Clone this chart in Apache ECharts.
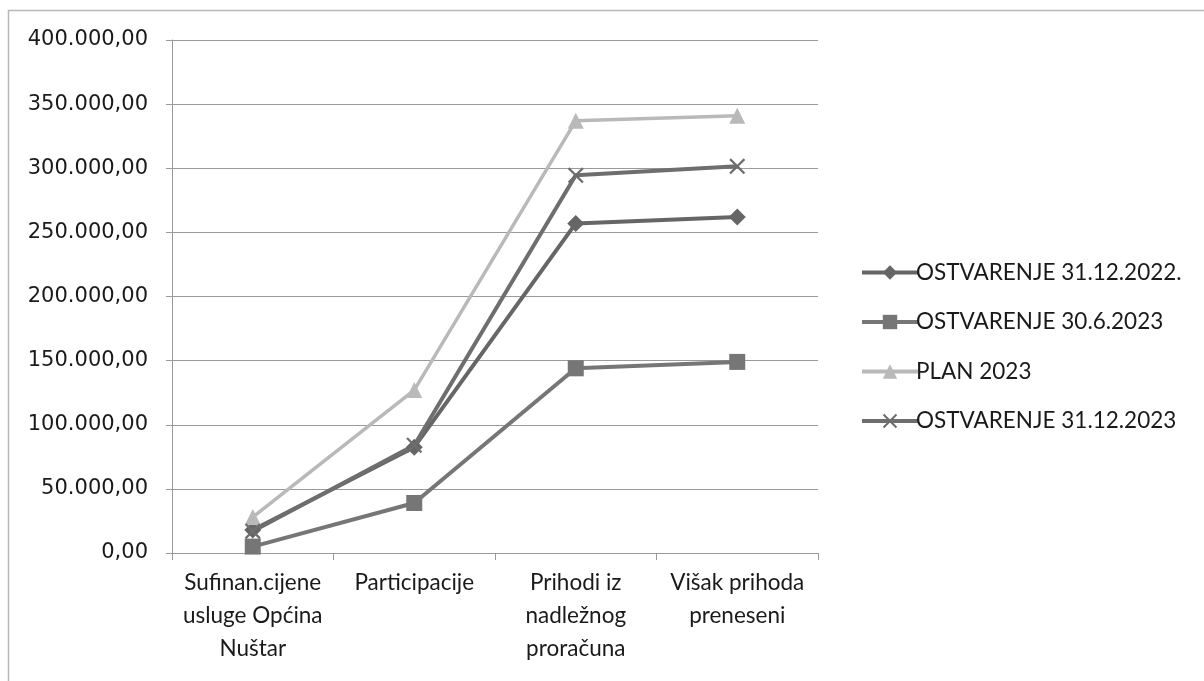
<!DOCTYPE html>
<html>
<head>
<meta charset="utf-8">
<script src="https://cdn.jsdelivr.net/npm/echarts@6/dist/echarts.min.js"></script>
<style>
html,body{margin:0;padding:0;background:#fff;}
#c{width:1204px;height:681px;}
</style>
</head>
<body>
<div id="c"></div>
<script>
const categories = ["Sufinan.cijene\nusluge Općina\nNuštar", "Participacije", "Prihodi iz\nnadležnog\nproračuna", "Višak prihoda\npreneseni"];
const seriesNames = ["OSTVARENJE 31.12.2022.", "OSTVARENJE 30.6.2023", "PLAN 2023", "OSTVARENJE 31.12.2023"];
const ostv2022 = [18000, 82500, 257000, 262000];
const ostv062023 = [5000, 39000, 144000, 149000];
const plan2023 = [28000, 127000, 337000, 341000];
const ostv2023 = [17000, 84000, 294500, 301500];
const yTicks = [0, 50000, 100000, 150000, 200000, 250000, 300000, 350000, 400000];

const xSymbol = 'path://M0,1 L1,0 L5,4 L9,0 L10,1 L6,5 L10,9 L9,10 L5,6 L1,10 L0,9 L4,5 Z';

function fmt(v){
  const s = Math.round(v).toString().replace(/\B(?=(\d{3})+(?!\d))/g, '.');
  return s + ',00';
}

const chart = echarts.init(document.getElementById('c'), null, {renderer:'canvas'});
const defs = [
  {name: seriesNames[0], data: ostv2022, color:'#666666', symbol:'diamond', size:17, lw:4},
  {name: seriesNames[1], data: ostv062023, color:'#767676', symbol:'rect', size:16, lw:4},
  {name: seriesNames[2], data: plan2023, color:'#b9b9b9', symbol:'triangle', size:16, lw:3.5},
  {name: seriesNames[3], data: ostv2023, color:'#6e6e6e', symbol:xSymbol, size:16, lw:4}
];
chart.setOption({
  animation:false,
  backgroundColor:'#fff',
  graphic:[{type:'rect', shape:{x:8.5,y:10.5,width:1200,height:680}, style:{fill:'none', stroke:'#b8b8b8', lineWidth:1.5}, silent:true}],
  grid:{left:172, right:386, top:40, bottom:128},
  legend:{
    orient:'vertical', left:855, top:256, itemWidth:56, itemHeight:18, itemGap:26.5,
    lineStyle:{width:4},
    textStyle:{fontFamily:'Lato', fontSize:22.5, color:'#1a1a1a', padding:[0,0,0,-7]},
    data: seriesNames
  },
  xAxis:{
    type:'category', data:categories, boundaryGap:true,
    axisLine:{lineStyle:{color:'#9a9a9a', width:1}},
    axisTick:{show:true, alignWithLabel:false, length:7, lineStyle:{color:'#9a9a9a'}},
    axisLabel:{interval:0, fontFamily:'Lato', fontSize:22.5, color:'#1a1a1a', lineHeight:33, margin:13, align:'center'}
  },
  yAxis:{
    type:'value', min:0, max:400000, interval:50000,
    axisLine:{show:true, lineStyle:{color:'#9a9a9a', width:1}},
    axisTick:{show:true, length:6, lineStyle:{color:'#9a9a9a'}},
    splitLine:{show:true, lineStyle:{color:'#9a9a9a', width:1}},
    axisLabel:{fontFamily:'DejaVu Sans', fontSize:21, color:'#1a1a1a', margin:24, formatter: v => fmt(v)}
  },
  series: defs.map(d => ({
    name:d.name, type:'line', data:d.data, symbol:d.symbol, symbolSize:d.size,
    showAllSymbol:true,
    lineStyle:{color:d.color, width:d.lw},
    itemStyle:{color:d.color, borderWidth:0},
    emphasis:{disabled:true}
  }))
});
</script>
</body>
</html>
